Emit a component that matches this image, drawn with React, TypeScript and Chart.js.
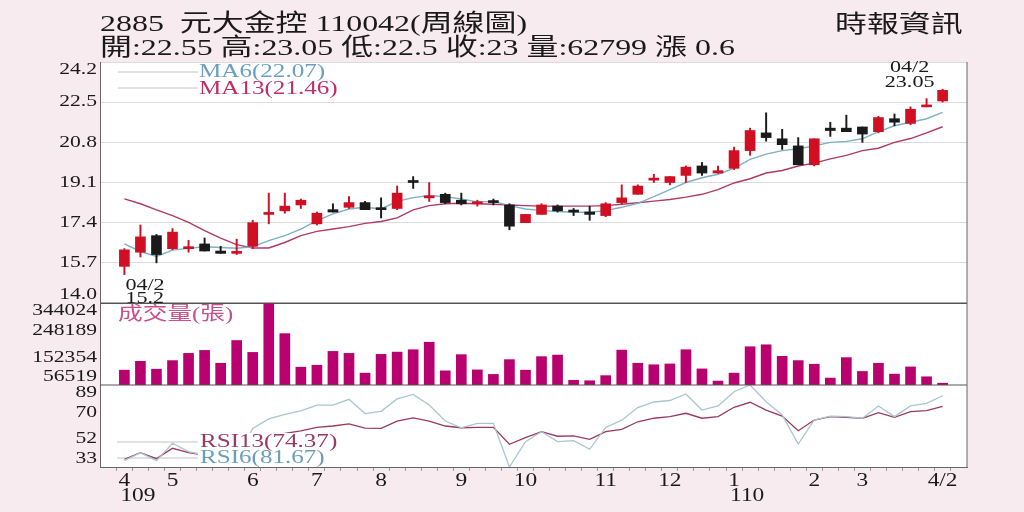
import React, { useEffect, useRef } from "react";
import { Chart, registerables } from "chart.js";
Chart.register(...registerables);

const TITLE = "2885  元大金控 110042(周線圖)";
const SUBTITLE = "開:22.55 高:23.05 低:22.5 收:23 量:62799 漲 0.6";
const SOURCE = "時報資訊";

const monthTickIndex = [0, 3, 8, 12, 16, 21, 25, 30, 34, 38, 43, 46, 51];
const monthTickLabels = ["4", "5", "6", "7", "8", "9", "10", "11", "12", "1", "2", "3", "4/2"];
const yearTickIndex = [0, 38];
const yearTickLabels = ["109", "110"];

const priceTicks = [14.0, 15.7, 17.4, 19.1, 20.8, 22.5, 24.2];
const volumeTicks = [56519, 152354, 248189, 344024];
const rsiTicks = [33, 52, 70, 89];

const openP = [15.55, 16.15, 16.85, 16.3, 16.3, 16.5, 16.2, 16.1, 16.4, 17.75, 17.9, 18.15, 17.35, 17.95, 18.05, 18.25, 18.0, 18.0, 19.15, 18.45, 18.6, 18.35, 18.2, 18.3, 18.15, 17.4, 17.75, 18.1, 17.9, 17.85, 17.7, 18.25, 18.6, 19.2, 19.1, 19.4, 19.8, 19.5, 19.7, 20.45, 21.2, 20.95, 20.65, 19.85, 21.4, 21.4, 21.45, 21.25, 21.8, 21.6, 22.3, 22.55];
const highP = [16.3, 17.3, 16.9, 17.15, 16.65, 16.75, 16.4, 16.7, 17.5, 18.65, 18.65, 18.4, 17.85, 18.2, 18.5, 18.3, 18.45, 18.95, 19.35, 19.1, 18.65, 18.65, 18.35, 18.4, 18.2, 17.75, 18.2, 18.15, 18.0, 18.1, 18.25, 19.0, 19.0, 19.45, 19.35, 19.8, 19.95, 19.8, 20.6, 21.4, 22.05, 21.35, 21.0, 20.95, 21.65, 21.95, 21.45, 21.9, 22.0, 22.3, 22.65, 23.05];
const lowP = [15.2, 15.95, 15.7, 16.25, 16.15, 16.2, 16.1, 16.05, 16.3, 17.35, 17.8, 18.0, 17.3, 17.85, 18.0, 17.95, 17.6, 17.95, 18.85, 18.3, 18.2, 18.15, 18.1, 18.15, 17.1, 17.4, 17.75, 17.85, 17.7, 17.5, 17.65, 18.2, 18.6, 19.1, 19.0, 19.1, 19.4, 19.5, 19.65, 20.25, 20.85, 20.5, 19.85, 19.8, 21.05, 21.25, 20.8, 21.2, 21.5, 21.55, 22.3, 22.5];
const closeP = [16.25, 16.8, 16.05, 17.0, 16.35, 16.2, 16.1, 16.15, 17.4, 17.8, 18.1, 18.35, 17.8, 17.85, 18.25, 17.95, 17.95, 18.65, 19.1, 18.5, 18.25, 18.2, 18.25, 18.25, 17.25, 17.75, 18.15, 17.9, 17.85, 17.75, 18.2, 18.45, 18.95, 19.25, 19.35, 19.75, 19.5, 19.6, 20.45, 21.3, 21.0, 20.7, 19.85, 20.95, 21.3, 21.25, 21.15, 21.85, 21.65, 22.2, 22.35, 23.0];
const volume = [108500, 139600, 111900, 142100, 167400, 177800, 132700, 212400, 170800, 344024, 236600, 118900, 125800, 174300, 167400, 98100, 163900, 171900, 180200, 206500, 106100, 162900, 109500, 93600, 145500, 108500, 155900, 161500, 72800, 71400, 89400, 178800, 132700, 127500, 130300, 180200, 113000, 70400, 98100, 190600, 197500, 157000, 142100, 129300, 80800, 152500, 104000, 132700, 94600, 119900, 85300, 62799];
const ma6 = [16.5, 16.18, 15.97, 16.24, 16.31, 16.38, 16.35, 16.32, 16.38, 16.64, 16.85, 17.13, 17.49, 17.77, 17.98, 18.05, 17.98, 18.3, 18.46, 18.55, 18.5, 18.4, 18.28, 18.3, 18.12, 17.98, 17.91, 17.87, 17.84, 17.84, 17.91, 18.05, 18.22, 18.5, 18.8, 19.1, 19.3, 19.45, 19.7, 20.08, 20.3, 20.45, 20.53, 20.65, 20.8, 20.84, 20.95, 21.25, 21.5, 21.65, 21.8, 22.07];
const ma13 = [18.41, 18.2, 17.94, 17.7, 17.41, 17.06, 16.75, 16.47, 16.33, 16.33, 16.56, 16.85, 17.03, 17.13, 17.23, 17.37, 17.45, 17.6, 17.94, 18.12, 18.2, 18.22, 18.2, 18.18, 18.15, 18.12, 18.1, 18.1, 18.1, 18.1, 18.12, 18.18, 18.24, 18.31, 18.38, 18.48, 18.6, 18.8, 19.08, 19.26, 19.5, 19.61, 19.8, 19.92, 20.1, 20.25, 20.45, 20.55, 20.8, 20.96, 21.2, 21.46];
const rsi6 = [37.3, 42.8, 37.3, 49.2, 43.5, 41.2, 40, 39, 59.3, 65.8, 69, 71.4, 75.3, 75.3, 79.2, 69.5, 71, 79.5, 82.6, 75.3, 64.4, 59.8, 62.8, 62.8, 33, 50.3, 57.1, 50.3, 51, 45.1, 60, 65, 73.6, 77.4, 78.4, 82.9, 71.9, 74.7, 84.4, 89, 77.6, 68.5, 48.7, 65.1, 67.8, 67.4, 66.3, 74.7, 67.4, 74.7, 76.5, 81.67];
const rsi13 = [38.3, 42.8, 38.7, 45.8, 42.8, 41.2, 41, 40.5, 50, 54, 56, 57.7, 60.1, 61, 62.4, 59.6, 59.4, 64.3, 66.5, 64.4, 61, 59.8, 60.1, 60.1, 48.5, 53, 57.1, 54, 54.2, 51.9, 57.1, 58.7, 63.9, 66.3, 67.4, 69.7, 66.3, 67.4, 73.8, 77.2, 71.9, 67.8, 57.8, 65.1, 67.4, 66.9, 66.3, 70.1, 66.9, 70.8, 71.5, 74.37];

const MA6_LABEL = "MA6(22.07)";
const MA13_LABEL = "MA13(21.46)";
const RSI13_LABEL = "RSI13(74.37)";
const RSI6_LABEL = "RSI6(81.67)";
const VOL_LABEL = "成交量(張)";
const LOW_DATE = "04/2";
const LOW_TEXT = "15.2";
const HIGH_DATE = "04/2";
const HIGH_TEXT = "23.05";

const BG = "#f8ebef";
const RED = "#d00f22";
const BLACK = "#1a1a1a";
const VOL = "#b8006e";
const C_MA6 = "#7eb0c6";
const C_MA13 = "#b03a66";
const C_RSI6 = "#a9c6ce";
const C_RSI13 = "#9a3a60";
const FONT = '"Liberation Serif", "DejaVu Serif", "Noto Sans CJK TC", serif';
const SX = 1.32;

function txt(ctx: CanvasRenderingContext2D, s: string, x: number, y: number, align: CanvasTextAlign, color: string, size: number, sx = SX) {
  ctx.save();
  ctx.font = `${size}px ${FONT}`;
  ctx.fillStyle = color;
  ctx.textAlign = align;
  ctx.textBaseline = "middle";
  ctx.translate(x, y);
  ctx.scale(sx, 1);
  ctx.fillText(s, 0, 0);
  ctx.restore();
}

function hline(ctx: CanvasRenderingContext2D, x1: number, x2: number, y: number, color: string, w = 1) {
  ctx.save();
  ctx.strokeStyle = color;
  ctx.lineWidth = w;
  ctx.beginPath();
  ctx.moveTo(x1, y);
  ctx.lineTo(x2, y);
  ctx.stroke();
  ctx.restore();
}

const overlay = {
  id: "overlay",
  beforeDraw(chart: any) {
    const { ctx, chartArea: a } = chart;
    ctx.save();
    ctx.fillStyle = "#ffffff";
    ctx.fillRect(a.left, a.top, a.right - a.left, a.bottom - a.top);
    ctx.restore();
  },
  beforeDatasetsDraw(chart: any) {
    const { ctx, chartArea: a, scales } = chart;
    const yP = scales.yP, yR = scales.yR;
    hline(ctx, a.left + 18, a.left + 98, yP.top + 10, "#c4c4c4");
    hline(ctx, a.left + 18, a.left + 98, yP.top + 26, "#c4c4c4");
    hline(ctx, a.left + 17, a.left + 98, yR.top + 57, "#c4c4c4");
    hline(ctx, a.left + 17, a.left + 98, yR.top + 73, "#c4c4c4");
  },
  afterDatasetsDraw(chart: any) {
    const { ctx, chartArea: a, scales } = chart;
    const x = scales.x, yP = scales.yP, yV = scales.yV, yR = scales.yR;
    // RSI legend box
    ctx.save();
    ctx.fillStyle = "#ffffff";
    ctx.fillRect(a.left + 98, yR.top + 48, 148, yR.bottom - yR.top - 49);
    ctx.restore();
    txt(ctx, RSI13_LABEL, a.left + 100, yR.top + 57, "left", C_RSI13, 19);
    txt(ctx, RSI6_LABEL, a.left + 100, yR.top + 73, "left", "#6a9ebc", 19);
    // MA legend
    txt(ctx, MA6_LABEL, a.left + 99, yP.top + 10, "left", "#6b9fc0", 19);
    txt(ctx, MA13_LABEL, a.left + 99, yP.top + 27, "left", "#c02e6a", 19);
    // volume title
    txt(ctx, VOL_LABEL, a.left + 18, yV.top + 12, "left", "#c8508c", 19, 1.3);
    // frame
    hline(ctx, a.left, a.right, yV.top, "#555");
    hline(ctx, a.left, a.right, yR.top, "#555");
    ctx.save();
    ctx.strokeStyle = "#666";
    ctx.lineWidth = 1;
    ctx.beginPath();
    ctx.moveTo(a.right, a.top);
    ctx.lineTo(a.right, a.bottom);
    ctx.stroke();
    ctx.restore();
    // y labels
    const yl = (scale: any, ticks: number[], fmt: (v: number) => string) => {
      ticks.forEach((v) => {
        let py = scale.getPixelForValue(v);
        py = Math.max(scale.top + 8, Math.min(scale.bottom - 8, py));
        txt(ctx, fmt(v), scale.right - 3, py, "right", "#1a1a1a", 16, 1.35);
      });
    };
    yl(yP, priceTicks, (v) => v.toFixed(1));
    yl(yV, volumeTicks, (v) => String(v));
    yl(yR, rsiTicks, (v) => String(v));
    // annotations
    const lowIdx = lowP.indexOf(Math.min(...lowP));
    const highIdx = highP.indexOf(Math.max(...highP));
    const lx = x.getPixelForValue(lowIdx);
    const ly = yP.getPixelForValue(lowP[lowIdx]);
    txt(ctx, LOW_DATE, lx + 1, ly + 11, "left", "#1a1a1a", 17, 1.3);
    txt(ctx, LOW_TEXT, lx + 1, ly + 24, "left", "#1a1a1a", 17, 1.3);
    const hx = x.getPixelForValue(highIdx);
    const hy = yP.getPixelForValue(highP[highIdx]);
    txt(ctx, HIGH_DATE, hx - 33, hy - 22, "center", "#1a1a1a", 17, 1.3);
    txt(ctx, HIGH_TEXT, hx - 33, hy - 7, "center", "#1a1a1a", 17, 1.3);
    // month labels
    monthTickIndex.forEach((idx, k) => {
      const px = x.getPixelForValue(idx);
      txt(ctx, monthTickLabels[k], px, x.top + 14, "center", "#1a1a1a", 18, 1.3);
    });
    yearTickIndex.forEach((idx, k) => {
      const px = x.getPixelForValue(idx);
      txt(ctx, yearTickLabels[k], px - 4, x.top + 29, "left", "#1a1a1a", 18, 1.3);
    });
  },
};

export default function App() {
  const ref = useRef<HTMLCanvasElement>(null);
  useEffect(() => {
    document.body.style.margin = "0";
    const idx = openP.map((_, i) => i);
    const up = idx.map((i) => closeP[i] >= openP[i]);
    const candleColors = up.map((u) => (u ? RED : BLACK));
    const chart = new Chart(ref.current as HTMLCanvasElement, {
      type: "bar",
      data: {
        datasets: [
          {
            type: "bar",
            label: "body",
            yAxisID: "yP",
            data: idx.map((i) => ({ x: i, y: [openP[i], closeP[i]] })) as any,
            backgroundColor: candleColors,
            barThickness: 10,
            minBarLength: 2,
            grouped: false,
            order: 0,
          } as any,
          {
            type: "bar",
            label: "wick",
            yAxisID: "yP",
            data: idx.map((i) => ({ x: i, y: [lowP[i], highP[i]] })) as any,
            backgroundColor: candleColors,
            barThickness: 1.3,
            grouped: false,
            order: 1,
          } as any,
          {
            type: "line",
            label: "MA6",
            yAxisID: "yP",
            data: idx.map((i) => ({ x: i, y: ma6[i] })),
            borderColor: C_MA6,
            borderWidth: 1.4,
            pointRadius: 0,
            tension: 0,
            order: 2,
          },
          {
            type: "line",
            label: "MA13",
            yAxisID: "yP",
            data: idx.map((i) => ({ x: i, y: ma13[i] })),
            borderColor: C_MA13,
            borderWidth: 1.4,
            pointRadius: 0,
            tension: 0,
            order: 2,
          },
          {
            type: "bar",
            label: "volume",
            yAxisID: "yV",
            data: idx.map((i) => ({ x: i, y: volume[i] })),
            backgroundColor: VOL,
            barThickness: 10,
            minBarLength: 1,
            grouped: false,
            order: 3,
          } as any,
          {
            type: "line",
            label: "RSI6",
            yAxisID: "yR",
            data: idx.map((i) => ({ x: i, y: rsi6[i] })),
            borderColor: C_RSI6,
            borderWidth: 1.3,
            pointRadius: 0,
            tension: 0,
            order: 4,
          },
          {
            type: "line",
            label: "RSI13",
            yAxisID: "yR",
            data: idx.map((i) => ({ x: i, y: rsi13[i] })),
            borderColor: C_RSI13,
            borderWidth: 1.3,
            pointRadius: 0,
            tension: 0,
            order: 4,
          },
        ],
      },
      options: {
        responsive: false,
        animation: false,
        events: [],
        layout: { padding: { top: 62, right: 57, left: 0, bottom: 0 } },
        plugins: { legend: { display: false }, tooltip: { enabled: false } },
        font: { family: FONT },
        scales: {
          x: {
            type: "linear",
            position: "bottom",
            min: -1,
            max: 52,
            afterBuildTicks: (s: any) => {
              s.ticks = idx.map((v) => ({ value: v }));
            },
            afterFit: (s: any) => {
              s.height = 45;
            },
            ticks: { display: false, autoSkip: false },
            grid: { drawOnChartArea: false, drawTicks: true, tickLength: 4, color: "#999" },
            border: { display: true, color: "#666" },
          },
          yP: {
            type: "linear",
            position: "left",
            stack: "panels",
            stackWeight: 241,
            weight: 3,
            min: 14,
            max: 24.2,
            afterBuildTicks: (s: any) => {
              s.ticks = priceTicks.map((v) => ({ value: v }));
            },
            afterFit: (s: any) => {
              s.width = 100;
            },
            ticks: { display: false },
            grid: {
              drawTicks: false,
              color: (c: any) => (c.tick && Math.abs(c.tick.value - 14) < 0.01 ? "#555" : "#dcdcdc"),
            },
            border: { display: true, color: "#666" },
          },
          yV: {
            type: "linear",
            position: "left",
            stack: "panels",
            stackWeight: 82,
            weight: 2,
            min: 56519,
            max: 344024,
            afterFit: (s: any) => {
              s.width = 100;
            },
            ticks: { display: false },
            grid: { display: false },
            border: { display: true, color: "#666" },
          },
          yR: {
            type: "linear",
            position: "left",
            stack: "panels",
            stackWeight: 82,
            weight: 1,
            min: 33,
            max: 89,
            afterFit: (s: any) => {
              s.width = 100;
            },
            ticks: { display: false },
            grid: { display: false },
            border: { display: true, color: "#666" },
          },
        },
      } as any,
      plugins: [overlay],
    });
    return () => chart.destroy();
  }, []);

  const head: React.CSSProperties = {
    position: "absolute",
    fontFamily: FONT,
    fontSize: 24,
    lineHeight: "24px",
    color: "#1a1a1a",
    whiteSpace: "pre",
    transform: "scaleX(1.33)",
    transformOrigin: "left center",
  };
  return (
    <div style={{ position: "relative", width: 1024, height: 512, background: BG, overflow: "hidden" }}>
      <canvas ref={ref} width={1024} height={512} style={{ position: "absolute", left: 0, top: 0, width: 1024, height: 512 }} />
      <div style={{ ...head, left: 100, top: 11 }}>{TITLE}</div>
      <div style={{ ...head, left: 100, top: 35 }}>{SUBTITLE}</div>
      <div style={{ ...head, left: 835, top: 12 }}>{SOURCE}</div>
    </div>
  );
}
